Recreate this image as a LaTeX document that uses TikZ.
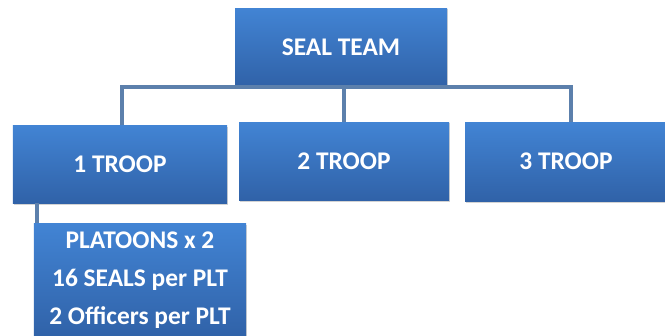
\documentclass[tikz,border=0pt]{standalone}
\usepackage{fontspec}
\setmainfont{Carlito}
\usetikzlibrary{shadows}
\definecolor{boxtop}{RGB}{66,132,212}
\definecolor{boxbot}{RGB}{48,98,168}
\definecolor{conn}{RGB}{92,128,172}
\tikzset{
  orgbox/.style={rectangle, top color=boxtop, bottom color=boxbot, draw=none,
    text=white, inner sep=0pt, font=\bfseries\fontsize{25.5}{38}\selectfont, align=center,
    drop shadow={opacity=0.35, shadow xshift=1pt, shadow yshift=-1.5pt}},
  connline/.style={draw=conn, line width=4.5bp}
}
\begin{document}
\begin{tikzpicture}[x=1bp,y=-1bp]
\useasboundingbox (0,0) rectangle (665,335);
\clip (0,0) rectangle (665,335);
\coordinate (bus) at (0,87);
\node[orgbox, minimum width=212bp, minimum height=78bp] (team) at (341,47) {SEAL TEAM};
\node[orgbox, minimum width=214bp, minimum height=78bp] (t1) at (120,164) {1 TROOP};
\node[orgbox, minimum width=210bp, minimum height=78bp] (t2) at (344,161) {2 TROOP};
\node[orgbox, minimum width=202bp, minimum height=79bp] (t3) at (566,161.5) {3 TROOP};
\node[orgbox, minimum width=212bp, minimum height=114bp] (plt) at (140,280) {PLATOONS x 2\\16 SEALS per PLT\\2 Officers per PLT};
\draw[connline] ([xshift=2bp]t1.north) -- ([xshift=2bp]t1.north |- bus) -- ([xshift=5bp]t3.north |- bus) -- ([xshift=5bp]t3.north);
\draw[connline] (t2.north) -- (t2.north |- team.south);
\draw[connline] ([xshift=3bp]plt.north west) -- ([xshift=3bp]plt.north west |- t1.south);
\end{tikzpicture}
\end{document}
